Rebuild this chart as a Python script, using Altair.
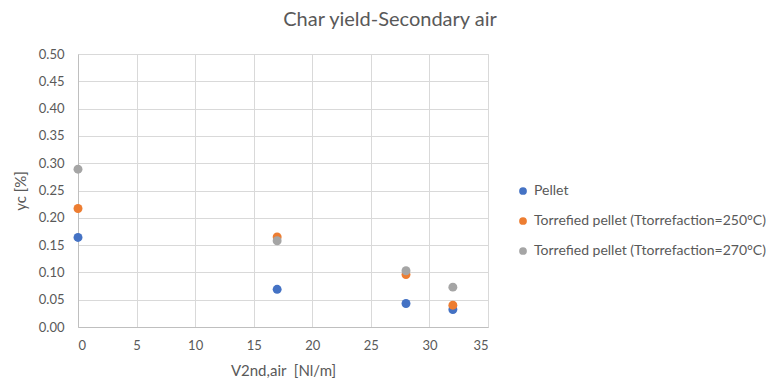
import altair as alt
import pandas as pd

series = ["Pellet", "Torrefied pellet (Ttorrefaction=250°C)", "Torrefied pellet (Ttorrefaction=270°C)"]
x_vals = [0, 17, 28, 32]
pellet = [0.164, 0.069, 0.043, 0.032]
torr250 = [0.217, 0.165, 0.096, 0.040]
torr270 = [0.289, 0.158, 0.103, 0.073]
colors = ["#4472C4", "#ED7D31", "#A5A5A5"]

rows = []
for name, vals in zip(series, [pellet, torr250, torr270]):
    for x, y in zip(x_vals, vals):
        rows.append({"series": name, "x": x, "y": y})
df = pd.DataFrame(rows)

font = "Lato"
grey = "#595959"

chart = alt.Chart(df).mark_circle(size=80, opacity=1).encode(
    x=alt.X("x:Q", title="V2nd,air\u00a0 [Nl/m]",
            scale=alt.Scale(domain=[0, 35], nice=False),
            axis=alt.Axis(values=[0, 5, 10, 15, 20, 25, 30, 35], labelPadding=12,
                          titlePadding=11)),
    y=alt.Y("y:Q", title="yc [%]",
            scale=alt.Scale(domain=[0, 0.5], nice=False),
            axis=alt.Axis(values=[i * 0.05 for i in range(11)], format=".2f",
                          labelPadding=14, titlePadding=10)),
    color=alt.Color("series:N", title=None,
                    scale=alt.Scale(domain=series, range=colors),
                    legend=alt.Legend(orient="none", legendX=438, legendY=130,
                                      symbolType="circle", symbolSize=60,
                                      rowPadding=16, labelFontSize=14,
                                      labelLimit=400,
                                      labelColor=grey, labelFont=font,
                                      symbolOpacity=1)),
    order=alt.Order("series:N", sort="ascending"),
).properties(
    width=410,
    height=273,
    autosize=alt.AutoSizeParams(type="none"),
    padding={"left": 70, "top": 46, "right": 280, "bottom": 55},
    title=alt.TitleParams("Char yield-Secondary air", anchor="middle", dx=107,
                          fontSize=20, font=font, color=grey, fontWeight="normal",
                          offset=18),
).configure_axis(
    gridColor="#D9D9D9",
    domainColor="#BFBFBF",
    ticks=False,
    labelFont=font,
    labelFontSize=13,
    labelColor=grey,
    titleFont=font,
    titleFontSize=15,
    titleColor=grey,
    titleFontWeight="normal",
).configure_view(stroke="#D9D9D9")

chart.save("out.html", embed_options={"renderer": "svg", "actions": False})
